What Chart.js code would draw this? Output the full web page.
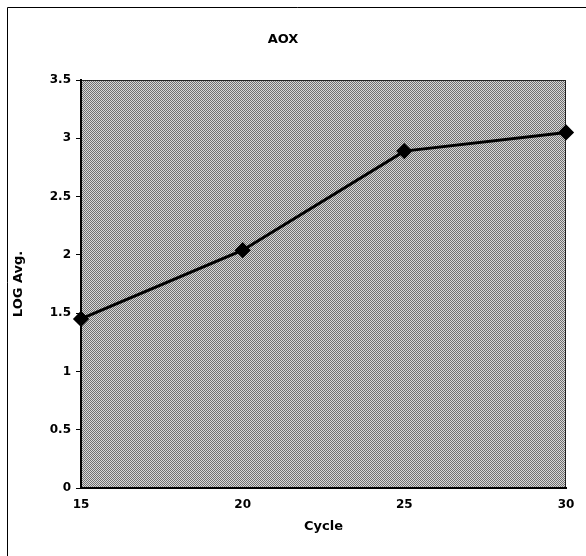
<!DOCTYPE html>
<html>
<head>
<meta charset="utf-8">
<title>AOX</title>
<script src="https://cdn.jsdelivr.net/npm/chart.js@4/dist/chart.umd.min.js"></script>
<style>
  body { margin: 0; background: #fff; }
  #wrap { width: 586px; height: 556px; }
</style>
</head>
<body>
<div id="wrap"><canvas id="myChart" width="586" height="556"></canvas></div>
<script>
// chart data
const cycles = [15, 20, 25, 30];
const logAvg = [1.45, 2.04, 2.89, 3.05];
const xTicks = [15, 20, 25, 30];
const yTicks = [0, 0.5, 1, 1.5, 2, 2.5, 3, 3.5];

// dithered grey fill like the scanned plot area
function makeTexture() {
    const c = document.createElement('canvas');
    c.width = 2;
    c.height = 2;
    const g = c.getContext('2d');
    g.fillStyle = '#d8d8d8';
    g.fillRect(0, 0, 2, 2);
    g.fillStyle = '#707070';
    g.fillRect(0, 0, 1, 1);
    g.fillRect(1, 1, 1, 1);
    return g.createPattern(c, 'repeat');
}

const frame = {
    id: 'frame',
    beforeDraw(chart) {
        const ctx = chart.ctx;
        const a = chart.chartArea;
        ctx.save();
        // outer box (cut off at right and bottom in the scan)
        ctx.strokeStyle = '#000';
        ctx.lineWidth = 1;
        ctx.beginPath();
        ctx.moveTo(7.5, 600);
        ctx.lineTo(7.5, 7.5);
        ctx.lineTo(600, 7.5);
        ctx.stroke();
        // plot area
        ctx.fillStyle = makeTexture();
        ctx.fillRect(a.left, a.top, a.right - a.left, a.bottom - a.top);
        ctx.strokeStyle = '#222';
        ctx.strokeRect(a.left + 0.5, a.top + 0.5, a.right - a.left - 1, a.bottom - a.top - 1);
        ctx.restore();
    }
};

function renderChart(ctx) {
    const font = { family: 'DejaVu Sans, sans-serif', weight: 'bold', size: 12 };
    const titleFont = { family: font.family, weight: 'bold', size: 13 };
    return new Chart(ctx, {
        type: 'line',
        data: {
            datasets: [{
                data: cycles.map((c, i) => ({ x: c, y: logAvg[i] })),
                borderColor: '#000',
                backgroundColor: '#000',
                borderWidth: 3,
                pointStyle: 'rectRot',
                pointRadius: 6,
                tension: 0,
                clip: false
            }]
        },
        options: {
            responsive: false,
            animation: false,
            layout: { padding: { left: 0, right: 20, top: 0, bottom: 0 } },
            plugins: {
                legend: { display: false },
                tooltip: { enabled: false },
                title: {
                    display: true,
                    text: 'AOX',
                    color: '#000',
                    font: titleFont,
                    padding: { top: 32, bottom: 32.4 }
                }
            },
            scales: {
                x: {
                    type: 'linear',
                    min: 15,
                    max: 30,
                    afterBuildTicks: s => { s.ticks = xTicks.map(v => ({ value: v })); },
                    afterFit: s => { s.height = 68; },
                    grid: { drawOnChartArea: false, drawTicks: false },
                    border: { color: '#000', width: 2 },
                    ticks: { color: '#000', font: font, padding: 10, maxRotation: 0,
                             callback: v => String(v) },
                    title: {
                        display: true,
                        text: 'Cycle',
                        color: '#000',
                        font: titleFont,
                        padding: { top: 0, bottom: 22 }
                    }
                },
                y: {
                    min: 0,
                    max: 3.5,
                    afterBuildTicks: s => { s.ticks = yTicks.map(v => ({ value: v })); },
                    afterFit: s => { s.width = 81; },
                    grid: { drawOnChartArea: false, tickLength: 5, color: '#000' },
                    border: { color: '#000', width: 2 },
                    ticks: { color: '#000', font: font, padding: 5,
                             callback: v => String(v) },
                    title: {
                        display: true,
                        text: 'LOG Avg.',
                        color: '#000',
                        font: titleFont,
                        padding: { top: 11, bottom: 0 }
                    }
                }
            }
        },
        plugins: [frame]
    });
}

window.onload = () => {
    const ctx = document.getElementById('myChart').getContext('2d');
    renderChart(ctx);
};
</script>
</body>
</html>
